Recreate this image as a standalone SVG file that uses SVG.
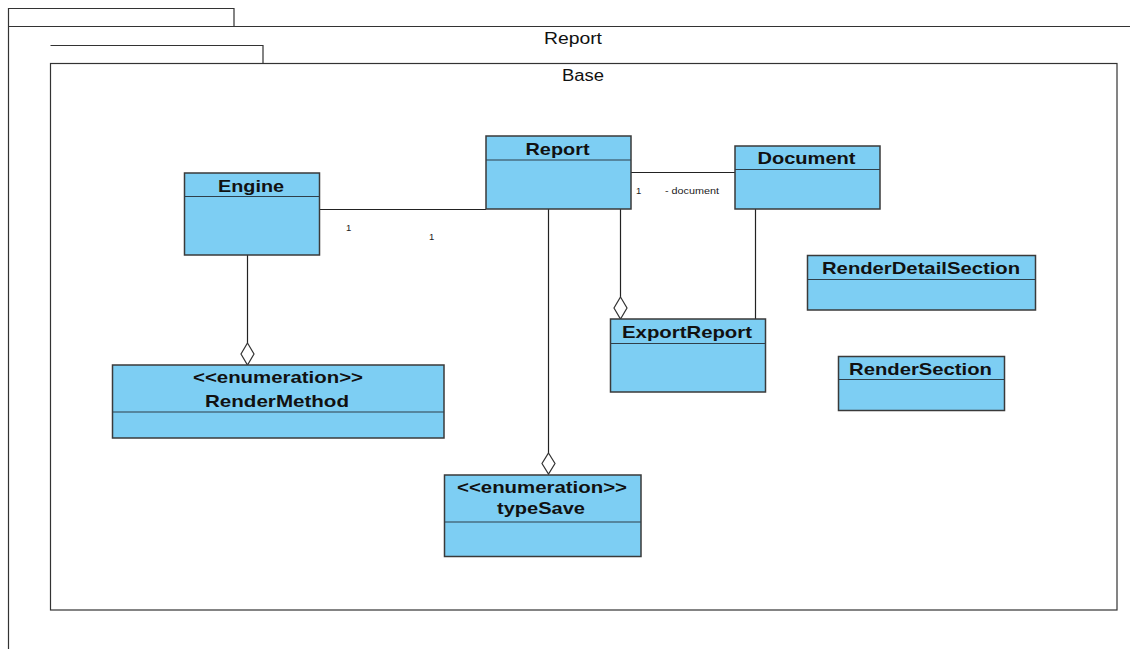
<svg xmlns="http://www.w3.org/2000/svg" width="1130" height="649" viewBox="0 0 1130 649">
  <style>
    .pkg { fill: none; stroke: #333; stroke-width: 1.2; }
    .cls { fill: #7dcef3; stroke: #3a3a3a; stroke-width: 1.5; }
    .div { stroke: #2f3f4a; stroke-width: 1.2; }
    .name { font-family: "Liberation Sans", Arial, sans-serif; font-weight: bold; font-size: 17px; fill: #111; text-anchor: middle; }
    .pkgname { font-family: "Liberation Sans", Arial, sans-serif; font-size: 16px; fill: #111; text-anchor: middle; }
    .mult { font-family: "Liberation Sans", Arial, sans-serif; font-size: 9.5px; fill: #222; }
    .link { fill: none; stroke: #222; stroke-width: 1.2; }
    .diamond { fill: #fff; stroke: #333; stroke-width: 1.2; }
  </style>
  <rect width="1130" height="649" fill="#fff"/>

  <!-- outer package: Report -->
  <g id="pkg-report">
    <path class="pkg" d="M8.5,649 V8.5 H234 V26.5 M8.5,26.5 H1130"/>
    <text class="pkgname" x="573" y="44" textLength="58" lengthAdjust="spacingAndGlyphs">Report</text>
  </g>

  <!-- inner package: Base -->
  <g id="pkg-base">
    <path class="pkg" d="M50.5,45.5 H263 V63.5"/>
    <rect class="pkg" x="50.5" y="63.5" width="1066.5" height="546.5"/>
    <text class="pkgname" x="583" y="81" textLength="42" lengthAdjust="spacingAndGlyphs">Base</text>
  </g>

  <!-- connectors -->
  <g id="connectors">
    <line class="link" x1="320" y1="209.5" x2="486" y2="209.5"/>
    <text class="mult" x="346" y="231">1</text>
    <text class="mult" x="429" y="240">1</text>

    <line class="link" x1="631" y1="172.5" x2="735" y2="172.5"/>
    <text class="mult" x="636" y="194">1</text>
    <text class="mult" x="665" y="194" textLength="54" lengthAdjust="spacingAndGlyphs">- document</text>

    <line class="link" x1="247.5" y1="255" x2="247.5" y2="343"/>
    <path class="diamond" d="M247.5,343 L254,354 L247.5,365 L241,354 Z"/>

    <line class="link" x1="548.5" y1="209" x2="548.5" y2="453"/>
    <path class="diamond" d="M548.5,453 L555,463.5 L548.5,474 L542,463.5 Z"/>

    <line class="link" x1="620.5" y1="209" x2="620.5" y2="297"/>
    <path class="diamond" d="M620.5,297 L627,308 L620.5,319 L614,308 Z"/>

    <line class="link" x1="755.5" y1="209" x2="755.5" y2="319"/>
  </g>

  <!-- classes -->
  <g id="engine">
    <rect class="cls" x="184.5" y="173" width="135" height="82"/>
    <line class="div" x1="184.5" y1="196.5" x2="319.5" y2="196.5"/>
    <text class="name" x="251" y="192" textLength="66" lengthAdjust="spacingAndGlyphs">Engine</text>
  </g>

  <g id="report">
    <rect class="cls" x="486" y="136" width="145" height="73"/>
    <line class="div" x1="486" y1="160" x2="631" y2="160"/>
    <text class="name" x="557.5" y="155" textLength="64" lengthAdjust="spacingAndGlyphs">Report</text>
  </g>

  <g id="document">
    <rect class="cls" x="735" y="146" width="145" height="63"/>
    <line class="div" x1="735" y1="169.5" x2="880" y2="169.5"/>
    <text class="name" x="806.5" y="164" textLength="98" lengthAdjust="spacingAndGlyphs">Document</text>
  </g>

  <g id="render-detail-section">
    <rect class="cls" x="807.5" y="255.5" width="228" height="54.5"/>
    <line class="div" x1="807.5" y1="279.5" x2="1035.5" y2="279.5"/>
    <text class="name" x="921" y="274" textLength="198" lengthAdjust="spacingAndGlyphs">RenderDetailSection</text>
  </g>

  <g id="render-section">
    <rect class="cls" x="838.5" y="356.5" width="166" height="54"/>
    <line class="div" x1="838.5" y1="379.5" x2="1004.5" y2="379.5"/>
    <text class="name" x="920.5" y="375" textLength="143" lengthAdjust="spacingAndGlyphs">RenderSection</text>
  </g>

  <g id="export-report">
    <rect class="cls" x="610.5" y="319" width="155" height="73"/>
    <line class="div" x1="610.5" y1="343.5" x2="765.5" y2="343.5"/>
    <text class="name" x="687" y="338" textLength="130" lengthAdjust="spacingAndGlyphs">ExportReport</text>
  </g>

  <g id="render-method">
    <rect class="cls" x="112.5" y="365" width="331.5" height="73"/>
    <line class="div" x1="112.5" y1="412" x2="444" y2="412"/>
    <text class="name" x="278" y="383" textLength="170" lengthAdjust="spacingAndGlyphs">&lt;&lt;enumeration&gt;&gt;</text>
    <text class="name" x="277" y="407" textLength="144" lengthAdjust="spacingAndGlyphs">RenderMethod</text>
  </g>

  <g id="type-save">
    <rect class="cls" x="444.5" y="475" width="196.5" height="81.5"/>
    <line class="div" x1="444.5" y1="522" x2="641" y2="522"/>
    <text class="name" x="542" y="493" textLength="170" lengthAdjust="spacingAndGlyphs">&lt;&lt;enumeration&gt;&gt;</text>
    <text class="name" x="541" y="514" textLength="88" lengthAdjust="spacingAndGlyphs">typeSave</text>
  </g>
</svg>
